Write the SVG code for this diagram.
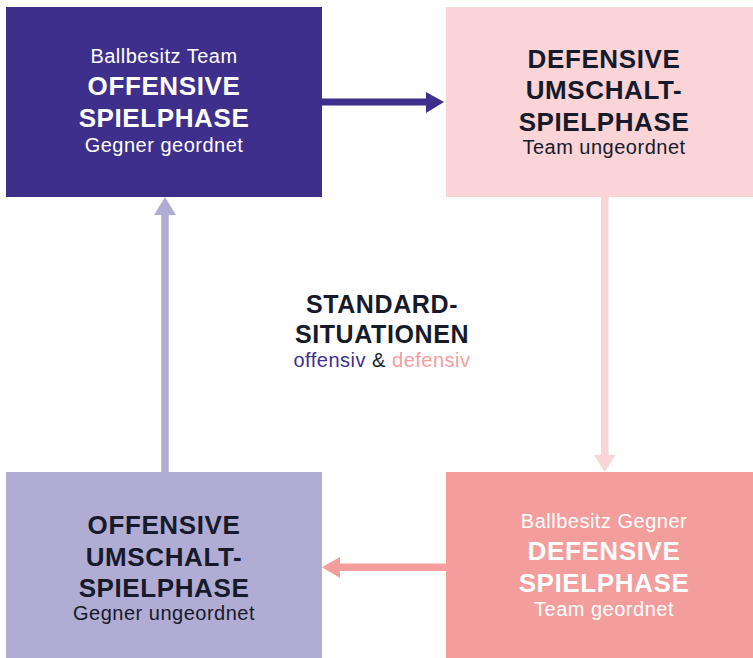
<svg xmlns="http://www.w3.org/2000/svg" width="753" height="658" viewBox="0 0 753 658">
<style>
text{font-family:"Liberation Sans",Arial,sans-serif;text-anchor:middle}
.b{font-weight:bold;font-size:26px;letter-spacing:0.6px}
.r{font-size:20px;letter-spacing:0.5px}
.w{fill:#ffffff}
.d{fill:#161a2b}
</style>
<rect width="753" height="658" fill="#ffffff"/>
<g id="connectors">
<rect x="322" y="98.5" width="104" height="7" fill="#3f2f8d"/>
<polygon points="426,92 444,102 426,113" fill="#3f2f8d"/>
<rect x="601" y="197" width="7.5" height="258" fill="#fad4d6"/>
<polygon points="594,455 604.75,472 615.5,455" fill="#fad4d6"/>
<rect x="340" y="563.5" width="106" height="7.5" fill="#f49d9d"/>
<polygon points="340,557 322,567.25 340,578" fill="#f49d9d"/>
<rect x="161.25" y="215" width="7.5" height="257" fill="#b1acd3"/>
<polygon points="154,215 165,197 176,215" fill="#b1acd3"/>
</g>
<g id="offensive-spielphase">
<rect x="6" y="7" width="316" height="190" fill="#3f2f8d"/>
<text x="164" y="63" class="r w">Ballbesitz Team</text>
<text x="164" y="95" class="b w">OFFENSIVE</text>
<text x="164" y="127" class="b w">SPIELPHASE</text>
<text x="164" y="152" class="r w">Gegner geordnet</text>
</g>
<g id="defensive-umschaltspielphase">
<rect x="446" y="7" width="316" height="190" fill="#fad4d6"/>
<text x="604" y="68" class="b d">DEFENSIVE</text>
<text x="604" y="99" class="b d">UMSCHALT-</text>
<text x="604" y="131" class="b d">SPIELPHASE</text>
<text x="604" y="154" class="r d">Team ungeordnet</text>
</g>
<g id="standardsituationen">
<text x="382" y="313" class="b d" style="font-size:25px">STANDARD-</text>
<text x="382" y="343" class="b d" style="font-size:25px">SITUATIONEN</text>
<text x="382" y="367" class="r d"><tspan fill="#3f2f8d">offensiv</tspan> &amp; <tspan fill="#f49d9d">defensiv</tspan></text>
</g>
<g id="offensive-umschaltspielphase">
<rect x="6" y="472" width="316" height="186" fill="#b1acd3"/>
<text x="164" y="534" class="b d">OFFENSIVE</text>
<text x="164" y="566" class="b d">UMSCHALT-</text>
<text x="164" y="597" class="b d">SPIELPHASE</text>
<text x="164" y="620" class="r d">Gegner ungeordnet</text>
</g>
<g id="defensive-spielphase">
<rect x="446" y="472" width="316" height="186" fill="#f49d9d"/>
<text x="604" y="528" class="r w">Ballbesitz Gegner</text>
<text x="604" y="560" class="b w">DEFENSIVE</text>
<text x="604" y="592" class="b w">SPIELPHASE</text>
<text x="604" y="616" class="r w">Team geordnet</text>
</g>
</svg>
